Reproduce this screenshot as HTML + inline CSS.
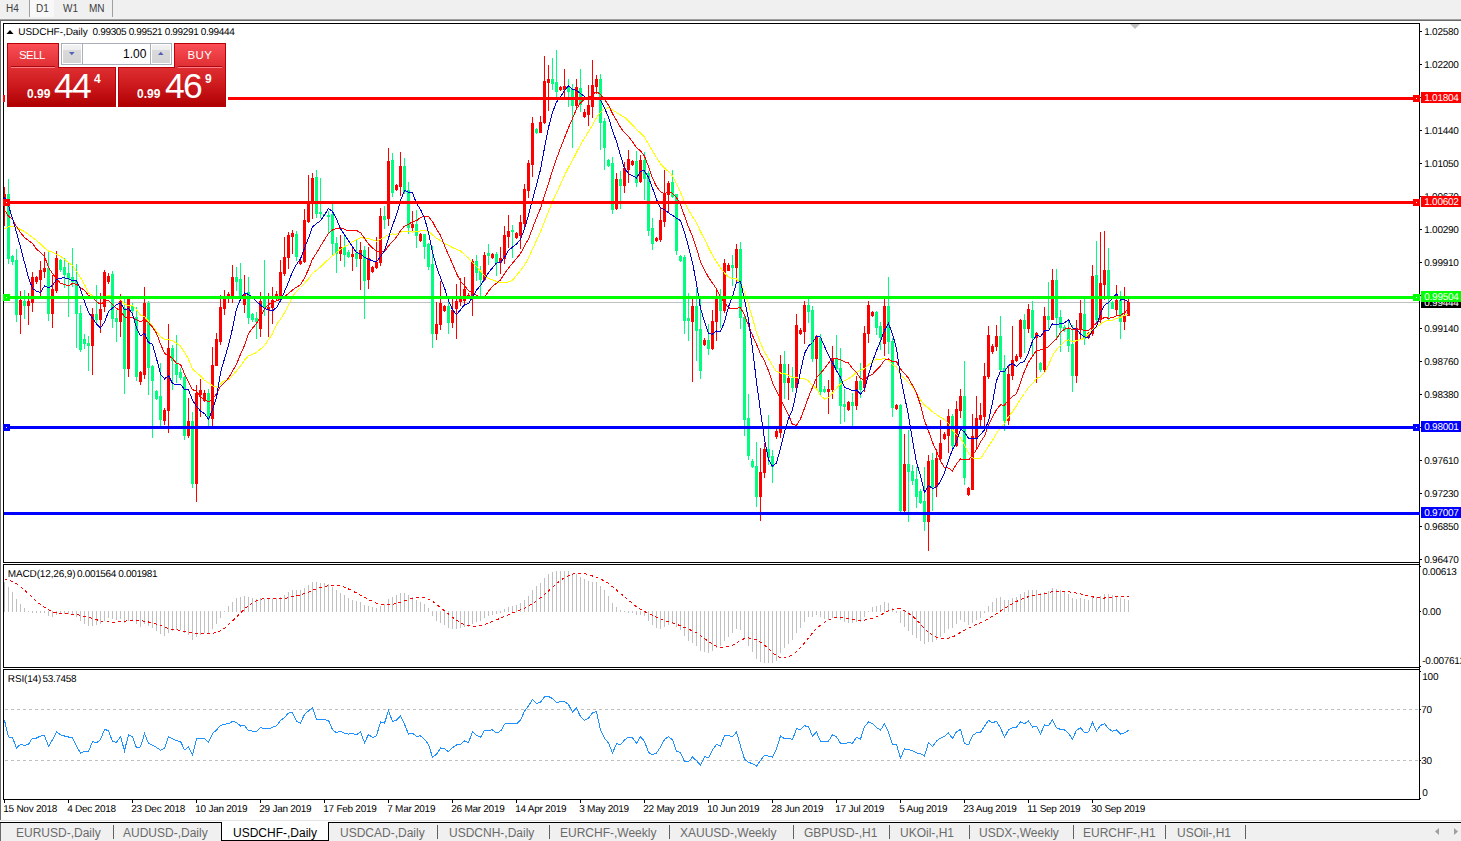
<!DOCTYPE html>
<html><head><meta charset="utf-8"><title>USDCHF-,Daily</title>
<style>
html,body{margin:0;padding:0}
body{width:1461px;height:841px;position:relative;overflow:hidden;background:#fff;font-family:"Liberation Sans",sans-serif;}
.topbar{position:absolute;left:0;top:0;width:1461px;height:19px;background:#f0f0f0}
.topbar .l1{position:absolute;left:0;top:19px;width:1461px;height:1px;background:#a0a0a0}
.topbar .l2{position:absolute;left:0;top:20px;width:1461px;height:1px;background:#696969}
.tf{position:absolute;top:2.6px;font-size:10px;line-height:12px;color:#404040;white-space:nowrap}
.vsep{position:absolute;top:0;width:1px;height:17px;background:#a0a0a0}
.d1bg{position:absolute;left:30px;top:0;width:24px;height:17px;background:#f8f8f8}
.leftline{position:absolute;left:0;top:20px;width:1px;height:800px;background:#696969}
.s{position:absolute;font-size:10px;line-height:8px;height:8px;letter-spacing:-0.27px;text-rendering:geometricPrecision;margin-top:1px;margin-left:-0.7px;white-space:nowrap;color:#000}
.tag{position:absolute;left:1421px;width:40px;height:11px;overflow:hidden}
.tag span{position:absolute;left:4px;top:1.5px;font-size:10px;line-height:8px;letter-spacing:-0.27px;text-rendering:geometricPrecision;margin-top:1px;margin-left:-0.7px;white-space:nowrap}
.botline1{position:absolute;left:0;top:820px;width:1461px;height:1px;background:#e3e3e3}
.botline{position:absolute;left:0;top:822px;width:1461px;height:1px;background:#000}
.tabbar{position:absolute;left:0;top:823px;width:1461px;height:18px;background:#f0f0f0}
.tb{position:absolute;top:826px;font-size:12px;line-height:14px;color:#6a6a6a;white-space:nowrap}
.tb.act{color:#000}
.sep{position:absolute;top:825px;width:1px;height:14px;background:#606060}
.acttab{position:absolute;left:221px;top:822px;width:106px;height:18px;background:#fff;border:1px solid #000;border-top:none}
.arr{position:absolute;top:829px;font-size:9px;line-height:9px;color:#808080}
/* trade panel */
.panelbg{position:absolute;left:5px;top:40px;width:223px;height:69px;background:#fff}
.red{position:absolute;background:linear-gradient(#ff4d55 0%,#e83a3e 30%,#d52224 60%,#b00000 100%);}
.btn{position:absolute;color:#fff;font-size:11.5px;line-height:12px;letter-spacing:-0.55px;white-space:nowrap}
.big{position:absolute;color:#fff;font-size:35.5px;line-height:30px;letter-spacing:-1.8px;white-space:nowrap}
.sm{position:absolute;color:#fff;font-size:12px;font-weight:bold;line-height:12px;white-space:nowrap}
.spin{position:absolute;left:61px;top:43px;width:109px;height:20px;border:1px solid #a9afbb;background:#fff}
.sb{position:absolute;top:1px;width:19px;height:18px;background:linear-gradient(#f4f4f4 0%,#ececec 35%,#d0d0d0 40%,#d6d6d6 100%);}
</style></head><body>
<div class="topbar"><div class="l1"></div><div class="l2"></div>
<div class="d1bg"></div>
<div class="vsep" style="left:29px"></div><div class="vsep" style="left:112px"></div>
<div class="tf" style="left:6px">H4</div><div class="tf" style="left:36px">D1</div><div class="tf" style="left:63px">W1</div><div class="tf" style="left:89px">MN</div>
</div>
<div class="leftline"></div>
<svg width="1461" height="841" viewBox="0 0 1461 841" style="position:absolute;left:0;top:0" shape-rendering="crispEdges">
<rect x="4" y="302" width="1415" height="1" fill="#c0c0c0"/>
<path d="M4 187h1v39h-1zM20 291h1v43h-1zM28 293h1v32h-1zM32 272h1v40h-1zM36 276h1v8h-1zM40 261h1v35h-1zM44 252h1v26h-1zM52 275h1v53h-1zM56 251h1v42h-1zM92 308h1v67h-1zM100 293h1v40h-1zM104 270h1v42h-1zM108 273h1v11h-1zM120 294h1v43h-1zM128 298h1v79h-1zM140 371h1v14h-1zM144 287h1v92h-1zM164 408h1v17h-1zM168 324h1v109h-1zM188 398h1v40h-1zM196 385h1v117h-1zM200 379h1v38h-1zM204 390h1v12h-1zM212 347h1v80h-1zM216 333h1v33h-1zM220 295h1v50h-1zM224 290h1v25h-1zM228 292h1v11h-1zM232 265h1v38h-1zM244 275h1v38h-1zM260 292h1v45h-1zM268 293h1v44h-1zM272 287h1v37h-1zM276 291h1v10h-1zM280 260h1v39h-1zM284 237h1v39h-1zM288 232h1v37h-1zM292 230h1v24h-1zM300 259h1v6h-1zM304 209h1v54h-1zM308 175h1v48h-1zM312 173h1v46h-1zM340 235h1v26h-1zM352 246h1v25h-1zM360 242h1v48h-1zM368 247h1v42h-1zM372 266h1v7h-1zM376 237h1v32h-1zM380 208h1v58h-1zM388 148h1v78h-1zM396 184h1v7h-1zM400 152h1v44h-1zM412 211h1v20h-1zM420 233h1v9h-1zM436 302h1v38h-1zM440 281h1v49h-1zM444 305h1v7h-1zM452 298h1v30h-1zM456 284h1v55h-1zM460 278h1v28h-1zM464 277h1v28h-1zM468 293h1v5h-1zM472 259h1v57h-1zM484 252h1v29h-1zM492 253h1v6h-1zM500 247h1v27h-1zM504 226h1v38h-1zM508 215h1v33h-1zM516 232h1v7h-1zM520 215h1v34h-1zM524 184h1v45h-1zM528 160h1v38h-1zM532 117h1v60h-1zM540 116h1v17h-1zM544 56h1v68h-1zM548 65h1v46h-1zM560 86h1v5h-1zM564 69h1v28h-1zM576 79h1v29h-1zM584 109h1v9h-1zM588 85h1v41h-1zM592 60h1v58h-1zM596 75h1v19h-1zM616 173h1v37h-1zM624 162h1v31h-1zM628 150h1v33h-1zM632 160h1v6h-1zM640 155h1v28h-1zM656 237h1v5h-1zM660 207h1v35h-1zM664 170h1v57h-1zM668 181h1v32h-1zM692 299h1v83h-1zM704 338h1v8h-1zM712 310h1v40h-1zM716 288h1v53h-1zM724 259h1v54h-1zM728 263h1v8h-1zM736 244h1v38h-1zM760 448h1v73h-1zM764 443h1v35h-1zM776 429h1v10h-1zM780 355h1v83h-1zM788 364h1v36h-1zM796 314h1v75h-1zM800 328h1v7h-1zM804 301h1v43h-1zM816 335h1v54h-1zM828 380h1v34h-1zM832 346h1v53h-1zM848 401h1v10h-1zM856 376h1v34h-1zM864 326h1v66h-1zM868 301h1v42h-1zM872 311h1v6h-1zM884 299h1v57h-1zM896 404h1v6h-1zM904 434h1v78h-1zM928 455h1v96h-1zM936 449h1v48h-1zM940 420h1v40h-1zM944 432h1v8h-1zM948 409h1v44h-1zM956 401h1v46h-1zM960 389h1v29h-1zM968 487h1v9h-1zM972 414h1v76h-1zM976 396h1v52h-1zM980 403h1v23h-1zM984 363h1v63h-1zM988 326h1v53h-1zM992 344h1v10h-1zM996 325h1v26h-1zM1008 366h1v59h-1zM1012 326h1v54h-1zM1016 354h1v8h-1zM1020 319h1v40h-1zM1028 304h1v29h-1zM1036 332h1v51h-1zM1044 307h1v66h-1zM1052 269h1v51h-1zM1076 320h1v63h-1zM1080 300h1v39h-1zM1088 332h1v7h-1zM1092 265h1v71h-1zM1100 232h1v92h-1zM1104 231h1v69h-1zM1116 285h1v31h-1zM1124 287h1v43h-1zM1128 299h1v17h-1zM3 194h3v12h-3zM19 300h3v15h-3zM27 301h3v5h-3zM31 277h3v26h-3zM35 277h3v5h-3zM39 270h3v10h-3zM43 268h3v4h-3zM51 289h3v25h-3zM55 258h3v33h-3zM91 314h3v32h-3zM99 309h3v11h-3zM103 272h3v35h-3zM107 276h3v6h-3zM119 301h3v21h-3zM127 299h3v70h-3zM139 372h3v10h-3zM143 303h3v72h-3zM163 410h3v11h-3zM167 348h3v63h-3zM187 421h3v15h-3zM195 393h3v91h-3zM199 390h3v5h-3zM203 393h3v8h-3zM211 365h3v54h-3zM215 339h3v27h-3zM219 307h3v35h-3zM223 296h3v13h-3zM227 294h3v5h-3zM231 277h3v19h-3zM243 294h3v11h-3zM259 301h3v28h-3zM267 307h3v3h-3zM271 300h3v8h-3zM275 294h3v5h-3zM279 272h3v26h-3zM283 257h3v17h-3zM287 235h3v23h-3zM291 233h3v4h-3zM299 261h3v3h-3zM303 220h3v42h-3zM307 201h3v21h-3zM311 178h3v24h-3zM339 247h3v7h-3zM351 254h3v3h-3zM359 250h3v9h-3zM367 258h3v22h-3zM371 267h3v5h-3zM375 262h3v6h-3zM379 216h3v47h-3zM387 161h3v58h-3zM395 185h3v5h-3zM399 166h3v21h-3zM411 224h3v4h-3zM419 234h3v7h-3zM435 324h3v10h-3zM439 303h3v22h-3zM443 306h3v5h-3zM451 310h3v13h-3zM455 301h3v8h-3zM459 299h3v3h-3zM463 289h3v12h-3zM467 295h3v2h-3zM471 261h3v35h-3zM483 255h3v25h-3zM491 254h3v4h-3zM499 258h3v5h-3zM503 235h3v24h-3zM507 231h3v6h-3zM515 233h3v5h-3zM519 222h3v14h-3zM523 189h3v35h-3zM527 163h3v28h-3zM531 123h3v42h-3zM539 122h3v11h-3zM543 81h3v42h-3zM547 79h3v4h-3zM559 87h3v3h-3zM563 86h3v4h-3zM575 87h3v19h-3zM583 112h3v5h-3zM587 105h3v10h-3zM591 85h3v22h-3zM595 79h3v8h-3zM615 179h3v30h-3zM623 168h3v18h-3zM627 159h3v11h-3zM631 161h3v4h-3zM639 160h3v22h-3zM655 238h3v3h-3zM659 220h3v20h-3zM663 194h3v28h-3zM667 183h3v12h-3zM691 306h3v16h-3zM703 340h3v5h-3zM711 321h3v28h-3zM715 298h3v24h-3zM723 263h3v48h-3zM727 265h3v6h-3zM735 249h3v19h-3zM759 472h3v25h-3zM763 449h3v24h-3zM775 431h3v6h-3zM779 364h3v69h-3zM787 378h3v5h-3zM795 325h3v63h-3zM799 330h3v4h-3zM803 305h3v27h-3zM815 336h3v23h-3zM827 389h3v3h-3zM831 358h3v32h-3zM847 402h3v8h-3zM855 381h3v25h-3zM863 333h3v55h-3zM867 305h3v29h-3zM871 312h3v4h-3zM883 306h3v38h-3zM895 405h3v4h-3zM903 464h3v47h-3zM927 461h3v61h-3zM935 458h3v29h-3zM939 443h3v16h-3zM943 434h3v5h-3zM947 416h3v20h-3zM955 409h3v37h-3zM959 396h3v15h-3zM967 488h3v7h-3zM971 436h3v54h-3zM975 418h3v20h-3zM979 415h3v5h-3zM983 376h3v41h-3zM987 335h3v42h-3zM991 346h3v6h-3zM995 336h3v11h-3zM1007 374h3v47h-3zM1011 360h3v16h-3zM1015 356h3v5h-3zM1019 320h3v37h-3zM1027 309h3v20h-3zM1035 333h3v5h-3zM1043 316h3v54h-3zM1051 280h3v40h-3zM1075 328h3v48h-3zM1079 313h3v17h-3zM1087 333h3v5h-3zM1091 276h3v58h-3zM1099 283h3v37h-3zM1103 270h3v15h-3zM1115 300h3v10h-3zM1123 315h3v7h-3zM1127 302h3v14h-3z" fill="#ff0000"/>
<path d="M8 179h1v85h-1zM12 255h1v10h-1zM16 249h1v73h-1zM24 290h1v29h-1zM48 251h1v70h-1zM60 259h1v13h-1zM64 258h1v30h-1zM68 262h1v55h-1zM72 248h1v39h-1zM76 264h1v84h-1zM80 305h1v47h-1zM84 334h1v15h-1zM88 336h1v35h-1zM96 285h1v40h-1zM112 271h1v57h-1zM116 310h1v32h-1zM124 299h1v95h-1zM132 303h1v11h-1zM136 307h1v74h-1zM148 301h1v94h-1zM152 365h1v73h-1zM156 390h1v10h-1zM160 363h1v63h-1zM172 345h1v45h-1zM176 335h1v48h-1zM180 368h1v12h-1zM184 376h1v64h-1zM192 412h1v76h-1zM208 389h1v38h-1zM236 267h1v24h-1zM240 263h1v37h-1zM248 277h1v47h-1zM252 313h1v9h-1zM256 312h1v27h-1zM264 260h1v56h-1zM296 231h1v30h-1zM316 170h1v48h-1zM320 178h1v40h-1zM324 214h1v1h-1zM328 211h1v23h-1zM332 204h1v51h-1zM336 237h1v36h-1zM344 235h1v32h-1zM348 250h1v8h-1zM356 239h1v28h-1zM364 246h1v73h-1zM384 206h1v23h-1zM392 153h1v44h-1zM404 158h1v36h-1zM408 182h1v52h-1zM416 210h1v38h-1zM424 234h1v25h-1zM428 243h1v27h-1zM432 246h1v102h-1zM448 299h1v35h-1zM476 255h1v26h-1zM480 266h1v30h-1zM488 244h1v21h-1zM496 252h1v24h-1zM512 225h1v33h-1zM536 128h1v6h-1zM552 58h1v32h-1zM556 50h1v48h-1zM568 79h1v28h-1zM572 84h1v64h-1zM580 69h1v43h-1zM600 74h1v76h-1zM604 118h1v52h-1zM608 159h1v8h-1zM612 157h1v57h-1zM620 171h1v38h-1zM636 151h1v36h-1zM644 152h1v48h-1zM648 171h1v65h-1zM652 218h1v32h-1zM672 170h1v28h-1zM676 194h1v61h-1zM680 255h1v7h-1zM684 255h1v79h-1zM688 293h1v48h-1zM696 288h1v73h-1zM700 299h1v80h-1zM708 324h1v31h-1zM720 289h1v39h-1zM732 255h1v31h-1zM740 242h1v87h-1zM744 316h1v120h-1zM748 394h1v66h-1zM752 459h1v9h-1zM756 442h1v65h-1zM768 415h1v50h-1zM772 450h1v33h-1zM784 351h1v48h-1zM792 367h1v25h-1zM808 299h1v24h-1zM812 306h1v56h-1zM820 334h1v62h-1zM824 386h1v7h-1zM836 335h1v36h-1zM840 348h1v76h-1zM844 389h1v33h-1zM852 393h1v33h-1zM860 363h1v35h-1zM876 311h1v24h-1zM880 322h1v28h-1zM888 277h1v77h-1zM892 338h1v79h-1zM900 404h1v109h-1zM908 430h1v92h-1zM912 465h1v20h-1zM916 467h1v41h-1zM920 489h1v15h-1zM924 467h1v64h-1zM932 453h1v58h-1zM952 414h1v34h-1zM964 361h1v124h-1zM1000 316h1v55h-1zM1004 355h1v76h-1zM1024 314h1v39h-1zM1032 301h1v56h-1zM1040 362h1v10h-1zM1048 282h1v47h-1zM1056 269h1v70h-1zM1060 310h1v42h-1zM1064 325h1v7h-1zM1068 319h1v33h-1zM1072 325h1v67h-1zM1084 299h1v46h-1zM1096 241h1v82h-1zM1108 248h1v72h-1zM1112 301h1v8h-1zM1120 291h1v48h-1zM7 194h3v65h-3zM11 256h3v6h-3zM15 260h3v55h-3zM23 301h3v5h-3zM47 268h3v46h-3zM59 260h3v10h-3zM63 267h3v8h-3zM67 273h3v6h-3zM71 277h3v5h-3zM75 281h3v33h-3zM79 313h3v37h-3zM83 339h3v5h-3zM87 343h3v3h-3zM95 314h3v6h-3zM111 274h3v45h-3zM115 318h3v4h-3zM123 308h3v61h-3zM131 306h3v5h-3zM135 317h3v60h-3zM147 303h3v65h-3zM151 366h3v15h-3zM155 391h3v8h-3zM159 396h3v24h-3zM171 348h3v13h-3zM175 364h3v11h-3zM179 372h3v6h-3zM183 377h3v59h-3zM191 421h3v63h-3zM207 393h3v26h-3zM235 277h3v5h-3zM239 279h3v20h-3zM247 292h3v26h-3zM251 314h3v6h-3zM255 318h3v4h-3zM263 298h3v10h-3zM295 234h3v23h-3zM315 177h3v37h-3zM319 212h3v2h-3zM323 214h3v1h-3zM327 215h3v2h-3zM331 214h3v30h-3zM335 243h3v11h-3zM343 247h3v8h-3zM347 252h3v5h-3zM355 253h3v6h-3zM363 250h3v31h-3zM383 216h3v4h-3zM391 160h3v33h-3zM403 166h3v26h-3zM407 190h3v38h-3zM415 224h3v12h-3zM423 234h3v13h-3zM427 244h3v23h-3zM431 264h3v70h-3zM447 306h3v17h-3zM475 261h3v12h-3zM479 271h3v9h-3zM487 253h3v3h-3zM495 254h3v9h-3zM511 230h3v2h-3zM535 129h3v4h-3zM551 79h3v5h-3zM555 82h3v10h-3zM567 87h3v5h-3zM571 89h3v17h-3zM579 88h3v17h-3zM599 79h3v44h-3zM603 121h3v27h-3zM607 160h3v6h-3zM611 163h3v47h-3zM619 179h3v7h-3zM635 161h3v22h-3zM643 160h3v19h-3zM647 173h3v58h-3zM651 228h3v16h-3zM671 182h3v15h-3zM675 194h3v57h-3zM679 256h3v5h-3zM683 257h3v64h-3zM687 318h3v3h-3zM695 306h3v25h-3zM699 329h3v42h-3zM707 340h3v9h-3zM719 298h3v13h-3zM731 265h3v3h-3zM739 249h3v69h-3zM743 317h3v103h-3zM747 418h3v38h-3zM751 461h3v6h-3zM755 466h3v31h-3zM767 449h3v9h-3zM771 456h3v11h-3zM783 364h3v19h-3zM791 378h3v10h-3zM807 305h3v7h-3zM811 310h3v49h-3zM819 338h3v54h-3zM823 389h3v3h-3zM835 358h3v11h-3zM839 368h3v38h-3zM843 404h3v3h-3zM851 402h3v4h-3zM859 381h3v9h-3zM875 312h3v16h-3zM879 326h3v12h-3zM887 306h3v36h-3zM891 341h3v67h-3zM899 405h3v106h-3zM907 464h3v8h-3zM911 471h3v10h-3zM915 479h3v18h-3zM919 491h3v12h-3zM923 501h3v21h-3zM931 460h3v27h-3zM951 416h3v30h-3zM963 396h3v82h-3zM999 336h3v34h-3zM1003 368h3v53h-3zM1023 320h3v9h-3zM1031 310h3v28h-3zM1039 363h3v7h-3zM1047 316h3v4h-3zM1055 280h3v38h-3zM1059 317h3v11h-3zM1063 327h3v3h-3zM1067 328h3v18h-3zM1071 344h3v32h-3zM1083 314h3v25h-3zM1095 275h3v45h-3zM1107 270h3v27h-3zM1111 302h3v7h-3zM1119 300h3v22h-3z" fill="#00ff7f"/>
<g shape-rendering="crispEdges" fill="none" stroke-width="1">
<polyline points="4.5,228.5 8.5,226.9 12.5,226.1 16.5,227.5 20.5,229.5 24.5,231.5 28.5,234.5 32.5,237.5 36.5,240.5 40.5,243.9 44.5,248.0 48.5,251.1 52.5,252.1 56.5,254.2 60.5,256.2 64.5,259.3 68.5,262.5 72.5,265.5 76.5,271.5 80.5,277.5 84.5,284.5 88.5,293.0 92.5,295.7 96.5,298.5 100.5,298.2 104.5,296.9 108.5,295.5 112.5,296.3 116.5,298.4 120.5,299.5 124.5,304.2 128.5,305.7 132.5,305.5 136.5,309.7 140.5,315.1 144.5,316.7 148.5,321.2 152.5,326.0 156.5,331.6 160.5,336.6 164.5,339.5 168.5,339.8 172.5,340.5 176.5,343.4 180.5,346.1 184.5,352.1 188.5,359.2 192.5,369.1 196.5,372.6 200.5,375.9 204.5,380.3 208.5,382.7 212.5,385.8 216.5,387.2 220.5,383.9 224.5,380.3 228.5,379.9 232.5,375.6 236.5,370.9 240.5,366.1 244.5,360.2 248.5,355.7 252.5,354.4 256.5,352.5 260.5,349.0 264.5,345.7 268.5,339.6 272.5,333.8 276.5,324.8 280.5,319.1 284.5,312.7 288.5,305.2 292.5,296.4 296.5,291.2 300.5,287.5 304.5,283.4 308.5,278.8 312.5,273.3 316.5,270.3 320.5,267.0 324.5,263.0 328.5,259.3 332.5,255.8 336.5,252.6 340.5,249.1 344.5,246.9 348.5,244.5 352.5,241.9 356.5,239.9 360.5,237.8 364.5,238.2 368.5,238.3 372.5,239.8 376.5,241.2 380.5,239.3 384.5,237.3 388.5,234.5 392.5,234.0 396.5,234.4 400.5,232.1 404.5,231.1 408.5,231.7 412.5,232.1 416.5,231.7 420.5,230.8 424.5,230.7 428.5,231.3 432.5,235.0 436.5,238.3 440.5,240.5 444.5,243.1 448.5,245.1 452.5,247.6 456.5,249.2 460.5,251.0 464.5,254.5 468.5,258.1 472.5,262.8 476.5,266.6 480.5,271.1 484.5,275.4 488.5,278.4 492.5,279.7 496.5,281.5 500.5,282.6 504.5,282.6 508.5,281.9 512.5,280.3 516.5,275.5 520.5,270.6 524.5,265.2 528.5,258.4 532.5,248.9 536.5,240.5 540.5,231.9 544.5,221.5 548.5,211.5 552.5,201.5 556.5,193.4 560.5,184.5 564.5,175.4 568.5,167.5 572.5,160.4 576.5,152.5 580.5,144.9 584.5,138.0 588.5,131.8 592.5,124.8 596.5,117.6 600.5,112.3 604.5,108.7 608.5,107.6 612.5,109.8 616.5,112.5 620.5,115.0 624.5,117.2 628.5,120.9 632.5,124.8 636.5,129.5 640.5,132.8 644.5,137.1 648.5,144.0 652.5,151.2 656.5,157.5 660.5,163.9 664.5,168.2 668.5,171.5 672.5,175.9 676.5,183.7 680.5,192.4 684.5,201.8 688.5,210.0 692.5,216.7 696.5,222.5 700.5,231.6 704.5,239.0 708.5,247.5 712.5,255.3 716.5,261.8 720.5,267.9 724.5,272.8 728.5,276.9 732.5,278.7 736.5,279.0 740.5,282.7 744.5,292.2 748.5,304.6 752.5,318.1 756.5,332.4 760.5,343.0 764.5,352.0 768.5,358.5 772.5,365.5 776.5,371.4 780.5,373.0 784.5,373.6 788.5,375.4 792.5,377.3 796.5,377.5 800.5,379.0 804.5,378.7 808.5,381.0 812.5,385.5 816.5,388.7 820.5,395.5 824.5,399.0 828.5,397.6 832.5,393.0 836.5,388.3 840.5,384.0 844.5,380.8 848.5,378.6 852.5,376.1 856.5,372.1 860.5,370.1 864.5,368.6 868.5,364.9 872.5,361.8 876.5,358.9 880.5,359.5 884.5,358.4 888.5,360.1 892.5,364.6 896.5,366.9 900.5,375.2 904.5,378.6 908.5,382.5 912.5,386.8 916.5,393.4 920.5,399.7 924.5,405.3 928.5,407.9 932.5,411.9 936.5,414.4 940.5,417.4 944.5,419.5 948.5,423.5 952.5,430.1 956.5,434.7 960.5,438.0 964.5,444.7 968.5,453.4 972.5,457.9 976.5,458.4 980.5,458.9 984.5,452.5 988.5,446.4 992.5,440.4 996.5,433.5 1000.5,427.5 1004.5,423.6 1008.5,416.6 1012.5,411.8 1016.5,405.6 1020.5,399.0 1024.5,393.5 1028.5,387.6 1032.5,383.8 1036.5,378.5 1040.5,376.6 1044.5,372.8 1048.5,365.3 1052.5,355.4 1056.5,349.7 1060.5,345.4 1064.5,341.3 1068.5,339.8 1072.5,341.7 1076.5,340.8 1080.5,339.7 1084.5,338.3 1088.5,334.1 1092.5,329.5 1096.5,327.5 1100.5,324.0 1104.5,321.6 1108.5,320.1 1112.5,320.1 1116.5,318.3 1120.5,317.7 1124.5,315.2 1128.5,314.5" stroke="#ffff00"/>
<polyline points="4.5,210.0 8.5,216.2 12.5,219.3 16.5,226.5 20.5,232.5 24.5,237.5 28.5,240.5 32.5,243.5 36.5,249.1 40.5,252.5 44.5,256.2 48.5,267.5 52.5,273.5 56.5,278.5 60.5,283.4 64.5,284.5 68.5,285.7 72.5,283.4 76.5,284.3 80.5,287.4 84.5,290.4 88.5,295.3 92.5,297.9 96.5,301.4 100.5,304.4 104.5,301.4 108.5,300.5 112.5,304.8 116.5,308.5 120.5,310.4 124.5,316.9 128.5,318.1 132.5,317.9 136.5,319.9 140.5,321.9 144.5,318.9 148.5,322.7 152.5,327.1 156.5,333.4 160.5,343.9 164.5,353.5 168.5,355.6 172.5,358.4 176.5,363.6 180.5,364.3 184.5,374.0 188.5,381.9 192.5,389.6 196.5,391.1 200.5,397.3 204.5,399.1 208.5,401.9 212.5,399.5 216.5,393.8 220.5,386.4 224.5,382.7 228.5,378.0 232.5,371.1 236.5,364.2 240.5,354.4 244.5,345.4 248.5,333.5 252.5,328.2 256.5,323.3 260.5,316.7 264.5,308.8 268.5,304.6 272.5,301.9 276.5,300.9 280.5,299.2 284.5,296.6 288.5,293.6 292.5,290.1 296.5,287.1 300.5,284.8 304.5,277.9 308.5,269.4 312.5,259.2 316.5,252.9 320.5,246.2 324.5,239.6 328.5,233.6 332.5,229.9 336.5,228.6 340.5,227.9 344.5,229.2 348.5,230.9 352.5,230.7 356.5,230.5 360.5,232.6 364.5,238.3 368.5,244.0 372.5,247.9 376.5,251.4 380.5,251.5 384.5,251.7 388.5,245.9 392.5,241.5 396.5,237.1 400.5,230.8 404.5,226.1 408.5,224.2 412.5,221.8 416.5,220.7 420.5,217.4 424.5,216.6 428.5,216.5 432.5,221.6 436.5,229.3 440.5,235.3 444.5,245.6 448.5,254.9 452.5,263.9 456.5,273.5 460.5,281.2 464.5,285.6 468.5,290.7 472.5,292.6 476.5,295.3 480.5,297.6 484.5,296.9 488.5,291.3 492.5,286.3 496.5,283.4 500.5,279.9 504.5,273.7 508.5,268.1 512.5,263.1 516.5,258.4 520.5,253.6 524.5,246.0 528.5,239.0 532.5,228.4 536.5,217.9 540.5,208.4 544.5,195.9 548.5,183.4 552.5,170.6 556.5,158.7 560.5,148.1 564.5,137.8 568.5,127.8 572.5,118.6 576.5,109.0 580.5,102.9 584.5,99.3 588.5,98.0 592.5,94.6 596.5,91.6 600.5,94.5 604.5,99.4 608.5,105.2 612.5,113.6 616.5,120.2 620.5,127.3 624.5,132.8 628.5,136.6 632.5,141.9 636.5,147.5 640.5,150.9 644.5,156.1 648.5,166.5 652.5,178.2 656.5,186.5 660.5,191.7 664.5,193.8 668.5,191.9 672.5,193.1 676.5,197.8 680.5,204.4 684.5,215.9 688.5,227.2 692.5,236.1 696.5,248.2 700.5,261.9 704.5,269.8 708.5,277.3 712.5,283.2 716.5,288.8 720.5,297.1 724.5,302.8 728.5,307.7 732.5,308.9 736.5,308.1 740.5,307.9 744.5,315.0 748.5,325.6 752.5,335.4 756.5,344.4 760.5,353.8 764.5,361.0 768.5,370.7 772.5,382.7 776.5,391.4 780.5,398.6 784.5,406.9 788.5,414.9 792.5,424.7 796.5,425.3 800.5,418.9 804.5,408.2 808.5,397.1 812.5,387.3 816.5,377.6 820.5,373.4 824.5,368.7 828.5,363.2 832.5,358.0 836.5,358.3 840.5,359.9 844.5,361.9 848.5,363.0 852.5,368.7 856.5,372.4 860.5,378.4 864.5,379.9 868.5,376.1 872.5,374.4 876.5,369.9 880.5,366.0 884.5,360.1 888.5,358.9 892.5,361.6 896.5,361.6 900.5,369.1 904.5,373.5 908.5,378.2 912.5,385.3 916.5,392.9 920.5,405.0 924.5,420.4 928.5,431.1 932.5,442.4 936.5,451.1 940.5,460.9 944.5,467.5 948.5,468.1 952.5,471.0 956.5,463.8 960.5,458.9 964.5,459.4 968.5,459.9 972.5,455.6 976.5,449.6 980.5,442.1 984.5,436.0 988.5,425.2 992.5,417.2 996.5,409.6 1000.5,404.9 1004.5,405.2 1008.5,400.1 1012.5,396.6 1016.5,393.8 1020.5,382.6 1024.5,371.1 1028.5,362.1 1032.5,356.3 1036.5,350.4 1040.5,349.9 1044.5,348.6 1048.5,346.6 1052.5,342.6 1056.5,338.9 1060.5,332.3 1064.5,329.1 1068.5,328.0 1072.5,329.4 1076.5,329.9 1080.5,328.9 1084.5,330.9 1088.5,330.6 1092.5,326.6 1096.5,323.0 1100.5,320.6 1104.5,317.1 1108.5,318.3 1112.5,317.6 1116.5,315.7 1120.5,315.1 1124.5,313.0 1128.5,307.8" stroke="#ff0000"/>
<polyline points="4.5,197.5 8.5,205.5 12.5,218.5 16.5,232.5 20.5,247.0 24.5,262.5 28.5,277.5 32.5,288.5 36.5,291.2 40.5,292.5 44.5,285.9 48.5,287.8 52.5,285.5 56.5,279.4 60.5,278.2 64.5,277.8 68.5,278.9 72.5,280.8 76.5,280.8 80.5,289.4 84.5,301.5 88.5,312.4 92.5,318.1 96.5,323.9 100.5,327.9 104.5,322.1 108.5,311.6 112.5,308.1 116.5,304.6 120.5,302.8 124.5,309.8 128.5,308.4 132.5,313.8 136.5,328.1 140.5,335.8 144.5,333.2 148.5,342.6 152.5,344.4 156.5,358.5 160.5,374.1 164.5,378.9 168.5,375.5 172.5,383.6 176.5,384.6 180.5,384.2 184.5,389.5 188.5,389.8 192.5,400.2 196.5,406.6 200.5,410.9 204.5,413.6 208.5,419.5 212.5,409.5 216.5,397.8 220.5,372.6 224.5,358.8 228.5,345.1 232.5,328.5 236.5,308.9 240.5,299.4 244.5,292.9 248.5,294.4 252.5,297.6 256.5,301.5 260.5,304.9 264.5,308.6 268.5,309.9 272.5,310.8 276.5,307.5 280.5,300.8 284.5,291.6 288.5,282.2 292.5,271.6 296.5,264.4 300.5,258.8 304.5,248.2 308.5,238.1 312.5,226.8 316.5,223.6 320.5,220.8 324.5,214.8 328.5,208.4 332.5,211.6 336.5,219.1 340.5,228.9 344.5,234.8 348.5,240.9 352.5,246.6 356.5,252.6 360.5,253.6 364.5,257.5 368.5,259.1 372.5,260.9 376.5,261.8 380.5,256.4 384.5,250.8 388.5,238.1 392.5,225.5 396.5,215.1 400.5,200.6 404.5,190.5 408.5,192.1 412.5,192.8 416.5,203.4 420.5,209.4 424.5,218.1 428.5,232.4 432.5,252.6 436.5,266.5 440.5,277.8 444.5,287.9 448.5,300.5 452.5,309.6 456.5,314.6 460.5,309.8 464.5,304.8 468.5,303.6 472.5,297.2 476.5,290.1 480.5,285.6 484.5,279.1 488.5,272.8 492.5,267.8 496.5,263.1 500.5,262.6 504.5,257.4 508.5,250.5 512.5,247.1 516.5,243.9 520.5,239.4 524.5,228.9 528.5,215.4 532.5,199.4 536.5,185.2 540.5,169.6 544.5,147.9 548.5,127.5 552.5,112.4 556.5,102.1 560.5,96.9 564.5,90.4 568.5,85.9 572.5,89.4 576.5,90.5 580.5,93.5 584.5,96.5 588.5,99.1 592.5,98.9 596.5,97.2 600.5,99.6 604.5,108.2 608.5,116.9 612.5,130.8 616.5,141.4 620.5,155.6 624.5,168.4 628.5,173.6 632.5,175.6 636.5,178.1 640.5,171.1 644.5,170.9 648.5,177.4 652.5,188.1 656.5,199.4 660.5,207.8 664.5,209.5 668.5,212.8 672.5,215.4 676.5,218.2 680.5,220.6 684.5,232.4 688.5,246.6 692.5,262.6 696.5,283.6 700.5,308.5 704.5,321.4 708.5,333.9 712.5,334.1 716.5,330.9 720.5,331.5 724.5,321.9 728.5,306.9 732.5,296.5 736.5,282.4 740.5,281.8 744.5,299.1 748.5,319.8 752.5,348.8 756.5,381.8 760.5,411.1 764.5,439.6 768.5,459.6 772.5,466.4 776.5,462.9 780.5,448.4 784.5,432.1 788.5,418.6 792.5,409.8 796.5,390.9 800.5,371.5 804.5,353.5 808.5,345.9 812.5,342.5 816.5,336.5 820.5,337.1 824.5,346.5 828.5,354.9 832.5,362.5 836.5,370.6 840.5,377.4 844.5,387.4 848.5,388.9 852.5,390.9 856.5,389.8 860.5,394.2 864.5,389.2 868.5,374.9 872.5,361.5 876.5,350.8 880.5,341.1 884.5,330.4 888.5,323.5 892.5,334.1 896.5,348.4 900.5,376.6 904.5,396.2 908.5,415.4 912.5,440.2 916.5,462.4 920.5,475.9 924.5,492.5 928.5,485.5 932.5,488.6 936.5,486.8 940.5,481.5 944.5,472.6 948.5,460.4 952.5,449.5 956.5,442.1 960.5,429.2 964.5,431.9 968.5,438.4 972.5,438.6 976.5,438.9 980.5,434.6 984.5,429.9 988.5,421.2 992.5,402.5 996.5,380.8 1000.5,371.2 1004.5,371.5 1008.5,365.6 1012.5,363.4 1016.5,366.4 1020.5,362.6 1024.5,361.5 1028.5,352.9 1032.5,341.1 1036.5,335.2 1040.5,336.5 1044.5,330.8 1048.5,330.6 1052.5,323.8 1056.5,324.9 1060.5,323.5 1064.5,322.9 1068.5,319.5 1072.5,327.9 1076.5,329.2 1080.5,333.9 1084.5,336.9 1088.5,337.8 1092.5,330.2 1096.5,326.5 1100.5,313.4 1104.5,305.1 1108.5,302.6 1112.5,298.4 1116.5,293.6 1120.5,300.1 1124.5,299.5 1128.5,302.2" stroke="#0000d0"/>
</g>
<path d="M4 582h1v30h-1zM8 587h1v25h-1zM12 592h1v20h-1zM16 599h1v13h-1zM20 604h1v8h-1zM24 608h1v4h-1zM28 611h1v1h-1zM32 611h1v2h-1zM36 611h1v2h-1zM40 611h1v2h-1zM44 611h1v2h-1zM48 611h1v5h-1zM52 611h1v6h-1zM56 611h1v4h-1zM60 611h1v3h-1zM64 611h1v3h-1zM68 611h1v3h-1zM72 611h1v4h-1zM76 611h1v6h-1zM80 611h1v10h-1zM84 611h1v13h-1zM88 611h1v15h-1zM92 611h1v15h-1zM96 611h1v14h-1zM100 611h1v13h-1zM104 611h1v10h-1zM108 611h1v7h-1zM112 611h1v8h-1zM116 611h1v9h-1zM120 611h1v8h-1zM124 611h1v12h-1zM128 611h1v10h-1zM132 611h1v9h-1zM136 611h1v13h-1zM140 611h1v16h-1zM144 611h1v13h-1zM148 611h1v15h-1zM152 611h1v17h-1zM156 611h1v20h-1zM160 611h1v23h-1zM164 611h1v25h-1zM168 611h1v22h-1zM172 611h1v20h-1zM176 611h1v19h-1zM180 611h1v19h-1zM184 611h1v22h-1zM188 611h1v24h-1zM192 611h1v29h-1zM196 611h1v26h-1zM200 611h1v24h-1zM204 611h1v22h-1zM208 611h1v22h-1zM212 611h1v18h-1zM216 611h1v13h-1zM220 611h1v7h-1zM224 611h1v1h-1zM228 606h1v6h-1zM232 602h1v10h-1zM236 598h1v14h-1zM240 597h1v15h-1zM244 596h1v16h-1zM248 597h1v15h-1zM252 598h1v14h-1zM256 599h1v13h-1zM260 598h1v14h-1zM264 599h1v13h-1zM268 599h1v13h-1zM272 599h1v13h-1zM276 598h1v14h-1zM280 597h1v15h-1zM284 595h1v17h-1zM288 592h1v20h-1zM292 590h1v22h-1zM296 590h1v22h-1zM300 590h1v22h-1zM304 588h1v24h-1zM308 585h1v27h-1zM312 582h1v30h-1zM316 582h1v30h-1zM320 583h1v29h-1zM324 583h1v29h-1zM328 584h1v28h-1zM332 587h1v25h-1zM336 590h1v22h-1zM340 593h1v19h-1zM344 595h1v17h-1zM348 598h1v14h-1zM352 600h1v12h-1zM356 601h1v11h-1zM360 602h1v10h-1zM364 605h1v7h-1zM368 606h1v6h-1zM372 607h1v5h-1zM376 608h1v4h-1zM380 606h1v6h-1zM384 604h1v8h-1zM388 599h1v13h-1zM392 597h1v15h-1zM396 595h1v17h-1zM400 593h1v19h-1zM404 593h1v19h-1zM408 595h1v17h-1zM412 597h1v15h-1zM416 600h1v12h-1zM420 602h1v10h-1zM424 604h1v8h-1zM428 608h1v4h-1zM432 611h1v5h-1zM436 611h1v10h-1zM440 611h1v12h-1zM444 611h1v14h-1zM448 611h1v17h-1zM452 611h1v18h-1zM456 611h1v18h-1zM460 611h1v17h-1zM464 611h1v16h-1zM468 611h1v16h-1zM472 611h1v13h-1zM476 611h1v11h-1zM480 611h1v10h-1zM484 611h1v7h-1zM488 611h1v5h-1zM492 611h1v4h-1zM496 611h1v3h-1zM500 611h1v2h-1zM504 609h1v3h-1zM508 607h1v5h-1zM512 606h1v6h-1zM516 605h1v7h-1zM520 603h1v9h-1zM524 600h1v12h-1zM528 596h1v16h-1zM532 590h1v22h-1zM536 586h1v26h-1zM540 583h1v29h-1zM544 578h1v34h-1zM548 574h1v38h-1zM552 572h1v40h-1zM556 571h1v41h-1zM560 571h1v41h-1zM564 571h1v41h-1zM568 571h1v41h-1zM572 574h1v38h-1zM576 574h1v38h-1zM580 577h1v35h-1zM584 579h1v33h-1zM588 581h1v31h-1zM592 582h1v30h-1zM596 582h1v30h-1zM600 586h1v26h-1zM604 590h1v22h-1zM608 596h1v16h-1zM612 603h1v9h-1zM616 607h1v5h-1zM620 610h1v2h-1zM624 611h1v1h-1zM628 611h1v2h-1zM632 611h1v2h-1zM636 611h1v4h-1zM640 611h1v4h-1zM644 611h1v5h-1zM648 611h1v10h-1zM652 611h1v14h-1zM656 611h1v17h-1zM660 611h1v18h-1zM664 611h1v16h-1zM668 611h1v14h-1zM672 611h1v13h-1zM676 611h1v16h-1zM680 611h1v19h-1zM684 611h1v25h-1zM688 611h1v30h-1zM692 611h1v32h-1zM696 611h1v35h-1zM700 611h1v40h-1zM704 611h1v41h-1zM708 611h1v42h-1zM712 611h1v40h-1zM716 611h1v37h-1zM720 611h1v35h-1zM724 611h1v30h-1zM728 611h1v26h-1zM732 611h1v22h-1zM736 611h1v18h-1zM740 611h1v19h-1zM744 611h1v27h-1zM748 611h1v35h-1zM752 611h1v41h-1zM756 611h1v48h-1zM760 611h1v51h-1zM764 611h1v52h-1zM768 611h1v52h-1zM772 611h1v52h-1zM776 611h1v50h-1zM780 611h1v42h-1zM784 611h1v37h-1zM788 611h1v33h-1zM792 611h1v29h-1zM796 611h1v22h-1zM800 611h1v17h-1zM804 611h1v11h-1zM808 611h1v6h-1zM812 611h1v6h-1zM816 611h1v4h-1zM820 611h1v6h-1zM824 611h1v8h-1zM828 611h1v9h-1zM832 611h1v7h-1zM836 611h1v7h-1zM840 611h1v9h-1zM844 611h1v11h-1zM848 611h1v12h-1zM852 611h1v12h-1zM856 611h1v11h-1zM860 611h1v11h-1zM864 611h1v6h-1zM868 611h1v1h-1zM872 607h1v5h-1zM876 606h1v6h-1zM880 605h1v7h-1zM884 602h1v10h-1zM888 603h1v9h-1zM892 608h1v4h-1zM896 611h1v2h-1zM900 611h1v12h-1zM904 611h1v16h-1zM908 611h1v20h-1zM912 611h1v24h-1zM916 611h1v27h-1zM920 611h1v30h-1zM924 611h1v33h-1zM928 611h1v31h-1zM932 611h1v31h-1zM936 611h1v29h-1zM940 611h1v26h-1zM944 611h1v22h-1zM948 611h1v18h-1zM952 611h1v17h-1zM956 611h1v13h-1zM960 611h1v9h-1zM964 611h1v11h-1zM968 611h1v14h-1zM972 611h1v12h-1zM976 611h1v9h-1zM980 611h1v7h-1zM984 611h1v2h-1zM988 606h1v6h-1zM992 602h1v10h-1zM996 598h1v14h-1zM1000 597h1v15h-1zM1004 600h1v12h-1zM1008 600h1v12h-1zM1012 598h1v14h-1zM1016 597h1v15h-1zM1020 594h1v18h-1zM1024 592h1v20h-1zM1028 590h1v22h-1zM1032 590h1v22h-1zM1036 590h1v22h-1zM1040 593h1v19h-1zM1044 592h1v20h-1zM1048 591h1v21h-1zM1052 588h1v24h-1zM1056 589h1v23h-1zM1060 590h1v22h-1zM1064 592h1v20h-1zM1068 594h1v18h-1zM1072 598h1v14h-1zM1076 599h1v13h-1zM1080 598h1v14h-1zM1084 599h1v13h-1zM1088 600h1v12h-1zM1092 597h1v15h-1zM1096 597h1v15h-1zM1100 596h1v16h-1zM1104 594h1v18h-1zM1108 594h1v18h-1zM1112 595h1v17h-1zM1116 596h1v16h-1zM1120 598h1v14h-1zM1124 599h1v13h-1zM1128 600h1v12h-1z" fill="#c0c0c0"/>
<polyline shape-rendering="crispEdges" points="4.5,578.9 8.5,580.0 12.5,581.5 16.5,583.8 20.5,586.7 24.5,590.0 28.5,593.7 32.5,597.5 36.5,601.3 40.5,604.6 44.5,607.3 48.5,609.9 52.5,611.8 56.5,612.9 60.5,613.5 64.5,613.8 68.5,614.0 72.5,614.1 76.5,614.5 80.5,615.4 84.5,616.3 88.5,617.3 92.5,618.5 96.5,619.7 100.5,620.9 104.5,621.6 108.5,622.0 112.5,622.3 116.5,622.1 120.5,621.6 124.5,621.2 128.5,620.7 132.5,620.1 136.5,620.1 140.5,620.7 144.5,621.3 148.5,622.0 152.5,622.9 156.5,624.2 160.5,625.5 164.5,627.1 168.5,628.5 172.5,629.3 176.5,629.8 180.5,630.5 184.5,631.3 188.5,632.0 192.5,633.0 196.5,633.4 200.5,633.2 204.5,633.2 208.5,633.4 212.5,633.2 216.5,632.5 220.5,630.8 224.5,628.3 228.5,624.7 232.5,620.8 236.5,616.9 240.5,613.0 244.5,609.0 248.5,605.6 252.5,602.8 256.5,600.8 260.5,599.4 264.5,598.6 268.5,598.3 272.5,598.3 276.5,598.5 280.5,598.6 284.5,598.4 288.5,597.7 292.5,596.7 296.5,595.7 300.5,594.8 304.5,593.6 308.5,592.1 312.5,590.3 316.5,588.7 320.5,587.4 324.5,586.4 328.5,585.8 332.5,585.6 336.5,585.6 340.5,586.1 344.5,587.2 348.5,589.0 352.5,590.9 356.5,593.0 360.5,595.1 364.5,597.4 368.5,599.5 372.5,601.4 376.5,603.1 380.5,604.2 384.5,604.9 388.5,604.9 392.5,604.4 396.5,603.6 400.5,602.2 404.5,600.7 408.5,599.4 412.5,598.2 416.5,597.5 420.5,597.3 424.5,597.9 428.5,599.1 432.5,601.3 436.5,604.3 440.5,607.6 444.5,610.9 448.5,614.1 452.5,617.2 456.5,620.1 460.5,622.7 464.5,624.7 468.5,625.9 472.5,626.2 476.5,626.0 480.5,625.5 484.5,624.4 488.5,623.0 492.5,621.4 496.5,619.8 500.5,618.2 504.5,616.4 508.5,614.7 512.5,613.0 516.5,611.4 520.5,609.8 524.5,608.1 528.5,606.1 532.5,603.6 536.5,600.7 540.5,597.8 544.5,594.5 548.5,590.9 552.5,587.3 556.5,583.7 560.5,580.4 564.5,577.6 568.5,575.6 572.5,574.2 576.5,573.3 580.5,573.1 584.5,573.7 588.5,574.8 592.5,576.0 596.5,577.3 600.5,579.0 604.5,581.1 608.5,583.5 612.5,586.7 616.5,590.0 620.5,593.4 624.5,596.7 628.5,600.1 632.5,603.5 636.5,606.7 640.5,609.3 644.5,611.5 648.5,613.4 652.5,615.3 656.5,617.2 660.5,619.0 664.5,620.6 668.5,621.9 672.5,622.9 676.5,624.2 680.5,625.8 684.5,627.5 688.5,629.2 692.5,630.9 696.5,632.8 700.5,635.4 704.5,638.4 708.5,641.5 712.5,644.2 716.5,646.2 720.5,647.3 724.5,647.3 728.5,646.6 732.5,645.2 736.5,642.7 740.5,640.3 744.5,638.6 748.5,638.0 752.5,638.5 756.5,640.0 760.5,642.4 764.5,645.3 768.5,648.6 772.5,652.5 776.5,655.9 780.5,657.6 784.5,657.9 788.5,656.9 792.5,654.8 796.5,651.6 800.5,647.7 804.5,643.1 808.5,637.9 812.5,633.0 816.5,628.7 820.5,625.3 824.5,622.5 828.5,620.2 832.5,618.5 836.5,617.4 840.5,617.3 844.5,617.8 848.5,618.5 852.5,619.4 856.5,620.0 860.5,620.4 864.5,620.1 868.5,619.4 872.5,618.4 876.5,616.9 880.5,615.1 884.5,613.0 888.5,610.8 892.5,609.3 896.5,608.3 900.5,608.9 904.5,610.5 908.5,613.1 912.5,616.2 916.5,619.8 920.5,624.0 924.5,628.5 928.5,632.2 932.5,635.5 936.5,637.4 940.5,638.5 944.5,638.7 948.5,638.1 952.5,637.0 956.5,635.1 960.5,632.4 964.5,630.1 968.5,628.2 972.5,626.3 976.5,624.5 980.5,622.7 984.5,620.9 988.5,618.6 992.5,616.2 996.5,613.8 1000.5,611.1 1004.5,608.5 1008.5,606.0 1012.5,603.7 1016.5,601.5 1020.5,599.5 1024.5,598.0 1028.5,596.7 1032.5,595.9 1036.5,595.1 1040.5,594.3 1044.5,593.5 1048.5,592.7 1052.5,591.7 1056.5,591.2 1060.5,590.9 1064.5,591.2 1068.5,591.6 1072.5,592.5 1076.5,593.1 1080.5,593.8 1084.5,594.7 1088.5,596.0 1092.5,596.8 1096.5,597.6 1100.5,598.0 1104.5,598.0 1108.5,597.5 1112.5,597.1 1116.5,596.8 1120.5,596.7 1124.5,596.6 1128.5,596.9" fill="none" stroke="#ff0000" stroke-width="1" stroke-dasharray="3 3"/>
<path d="M5 709.5H1419" stroke="#c0c0c0" stroke-width="1" stroke-dasharray="3 3" fill="none"/>
<path d="M5 760.5H1419" stroke="#c0c0c0" stroke-width="1" stroke-dasharray="3 3" fill="none"/>
<polyline shape-rendering="crispEdges" points="4.5,720.4 8.5,737.0 12.5,737.7 16.5,747.9 20.5,744.4 24.5,745.3 28.5,744.3 32.5,738.0 36.5,738.0 40.5,736.1 44.5,735.5 48.5,746.4 52.5,739.7 56.5,732.0 60.5,734.8 64.5,736.0 68.5,737.0 72.5,737.9 76.5,745.9 80.5,753.2 84.5,751.2 88.5,751.6 92.5,741.5 96.5,742.7 100.5,739.6 104.5,729.4 108.5,730.6 112.5,741.6 116.5,742.3 120.5,736.6 124.5,750.6 128.5,734.7 132.5,736.8 136.5,747.8 140.5,746.9 144.5,733.7 148.5,743.3 152.5,745.1 156.5,747.5 160.5,750.2 164.5,748.3 168.5,736.7 172.5,738.6 176.5,740.8 180.5,741.3 184.5,749.9 188.5,746.9 192.5,754.7 196.5,738.8 200.5,738.3 204.5,738.8 208.5,742.4 212.5,733.7 216.5,729.9 220.5,725.5 224.5,724.1 228.5,723.8 232.5,721.4 236.5,722.3 240.5,726.1 244.5,725.4 248.5,730.7 252.5,731.1 256.5,731.6 260.5,727.3 264.5,728.9 268.5,728.9 272.5,727.2 276.5,725.7 280.5,720.6 284.5,717.4 288.5,713.1 292.5,712.7 296.5,721.4 300.5,723.1 304.5,714.4 308.5,711.0 312.5,707.4 316.5,719.4 320.5,719.4 324.5,719.7 328.5,720.4 332.5,729.7 336.5,732.8 340.5,731.1 344.5,733.4 348.5,734.1 352.5,733.4 356.5,734.9 360.5,731.8 364.5,742.7 368.5,734.6 372.5,737.6 376.5,735.8 380.5,721.9 384.5,723.1 388.5,710.8 392.5,721.4 396.5,720.0 400.5,716.2 404.5,724.3 408.5,734.1 412.5,733.3 416.5,736.2 420.5,735.9 424.5,739.2 428.5,744.4 432.5,757.2 436.5,754.4 440.5,748.0 444.5,748.6 448.5,751.7 452.5,747.8 456.5,745.0 460.5,744.3 464.5,741.0 468.5,742.6 472.5,732.0 476.5,735.3 480.5,737.4 484.5,730.2 488.5,730.2 492.5,729.9 496.5,732.9 500.5,731.5 504.5,724.1 508.5,723.0 512.5,723.0 516.5,723.9 520.5,720.2 524.5,711.2 528.5,705.8 532.5,699.5 536.5,703.7 540.5,702.1 544.5,696.7 548.5,696.5 552.5,698.5 556.5,702.5 560.5,701.8 564.5,701.6 568.5,704.5 572.5,712.2 576.5,708.1 580.5,716.6 584.5,720.3 588.5,718.3 592.5,713.0 596.5,711.6 600.5,730.1 604.5,738.1 608.5,743.1 612.5,753.1 616.5,743.6 620.5,744.9 624.5,739.8 628.5,737.2 632.5,737.8 636.5,743.4 640.5,736.6 644.5,741.4 648.5,752.4 652.5,754.7 656.5,753.0 660.5,747.1 664.5,739.5 668.5,736.5 672.5,739.8 676.5,751.0 680.5,752.8 684.5,761.6 688.5,761.6 692.5,757.1 696.5,760.6 700.5,765.5 704.5,756.6 708.5,757.7 712.5,750.1 716.5,744.2 720.5,746.4 724.5,735.5 728.5,735.9 732.5,736.3 736.5,732.2 740.5,745.9 744.5,759.1 748.5,762.5 752.5,763.5 756.5,766.2 760.5,760.4 764.5,755.1 768.5,756.1 772.5,757.2 776.5,748.8 780.5,735.9 784.5,738.8 788.5,738.1 792.5,739.6 796.5,728.7 800.5,729.7 804.5,725.7 808.5,726.9 812.5,736.1 816.5,732.2 820.5,741.5 824.5,741.5 828.5,741.1 832.5,734.9 836.5,736.8 840.5,743.4 844.5,743.6 848.5,742.6 852.5,743.2 856.5,737.2 860.5,739.0 864.5,726.9 868.5,722.0 872.5,723.7 876.5,727.6 880.5,730.1 884.5,723.9 888.5,732.4 892.5,744.8 896.5,744.3 900.5,758.2 904.5,748.8 908.5,749.7 912.5,750.8 916.5,752.9 920.5,753.7 924.5,756.1 928.5,742.8 932.5,746.5 936.5,741.0 940.5,738.1 944.5,736.4 948.5,733.0 952.5,738.5 956.5,731.7 960.5,729.5 964.5,743.4 968.5,744.9 972.5,735.6 976.5,732.7 980.5,732.2 984.5,726.1 988.5,720.5 992.5,722.7 996.5,721.3 1000.5,728.2 1004.5,737.2 1008.5,729.9 1012.5,727.9 1016.5,727.3 1020.5,722.0 1024.5,723.7 1028.5,720.9 1032.5,727.0 1036.5,726.3 1040.5,733.8 1044.5,725.0 1048.5,725.6 1052.5,719.9 1056.5,727.6 1060.5,729.5 1064.5,730.0 1068.5,733.3 1072.5,739.1 1076.5,730.3 1080.5,727.7 1084.5,732.8 1088.5,731.9 1092.5,722.4 1096.5,731.0 1100.5,725.5 1104.5,723.6 1108.5,728.8 1112.5,731.2 1116.5,729.8 1120.5,734.0 1124.5,732.9 1128.5,730.3" fill="none" stroke="#1e90ff" stroke-width="1"/>
<path d="M1130 24h10l-5 5z" fill="#c0c0c0" shape-rendering="auto"/>
<g fill="#000">
<rect x="3" y="23" width="1417" height="1"/><rect x="3" y="562" width="1417" height="1"/>
<rect x="3" y="564" width="1417" height="1"/><rect x="3" y="667" width="1417" height="1"/>
<rect x="3" y="669" width="1417" height="1"/><rect x="3" y="799" width="1417" height="1"/>
<rect x="3" y="23" width="1" height="540"/><rect x="3" y="564" width="1" height="104"/><rect x="3" y="669" width="1" height="131"/>
<rect x="1419" y="23" width="1" height="777"/>
<rect x="1420" y="31" width="2" height="1"/>
<rect x="1420" y="64" width="2" height="1"/>
<rect x="1420" y="97" width="2" height="1"/>
<rect x="1420" y="130" width="2" height="1"/>
<rect x="1420" y="163" width="2" height="1"/>
<rect x="1420" y="196" width="2" height="1"/>
<rect x="1420" y="229" width="2" height="1"/>
<rect x="1420" y="262" width="2" height="1"/>
<rect x="1420" y="295" width="2" height="1"/>
<rect x="1420" y="328" width="2" height="1"/>
<rect x="1420" y="361" width="2" height="1"/>
<rect x="1420" y="394" width="2" height="1"/>
<rect x="1420" y="427" width="2" height="1"/>
<rect x="1420" y="460" width="2" height="1"/>
<rect x="1420" y="493" width="2" height="1"/>
<rect x="1420" y="526" width="2" height="1"/>
<rect x="1420" y="559" width="2" height="1"/>
<rect x="1420" y="566" width="1" height="1"/>
<rect x="1420" y="611" width="1" height="1"/>
<rect x="1420" y="666" width="1" height="1"/>
<rect x="1420" y="671" width="1" height="1"/>
<rect x="1420" y="709" width="1" height="1"/>
<rect x="1420" y="760" width="1" height="1"/>
<rect x="1420" y="798" width="1" height="1"/>
<rect x="4" y="800" width="1" height="3"/>
<rect x="68" y="800" width="1" height="3"/>
<rect x="132" y="800" width="1" height="3"/>
<rect x="196" y="800" width="1" height="3"/>
<rect x="260" y="800" width="1" height="3"/>
<rect x="324" y="800" width="1" height="3"/>
<rect x="388" y="800" width="1" height="3"/>
<rect x="452" y="800" width="1" height="3"/>
<rect x="516" y="800" width="1" height="3"/>
<rect x="580" y="800" width="1" height="3"/>
<rect x="644" y="800" width="1" height="3"/>
<rect x="708" y="800" width="1" height="3"/>
<rect x="772" y="800" width="1" height="3"/>
<rect x="836" y="800" width="1" height="3"/>
<rect x="900" y="800" width="1" height="3"/>
<rect x="964" y="800" width="1" height="3"/>
<rect x="1028" y="800" width="1" height="3"/>
<rect x="1092" y="800" width="1" height="3"/>
</g>
<rect x="4" y="97" width="1416" height="3" fill="#ff0000"/>
<rect x="1413" y="95" width="7" height="7" fill="#ff0000"/>
<rect x="1416" y="98" width="1" height="1" fill="#fff"/>
<rect x="3" y="95" width="7" height="7" fill="#ff0000"/>
<rect x="6" y="98" width="1" height="1" fill="#fff"/>
<rect x="4" y="201" width="1416" height="3" fill="#ff0000"/>
<rect x="1413" y="199" width="7" height="7" fill="#ff0000"/>
<rect x="1416" y="202" width="1" height="1" fill="#fff"/>
<rect x="3" y="199" width="7" height="7" fill="#ff0000"/>
<rect x="6" y="202" width="1" height="1" fill="#fff"/>
<rect x="4" y="296" width="1416" height="3" fill="#00ff00"/>
<rect x="1413" y="294" width="7" height="7" fill="#00ff00"/>
<rect x="1416" y="297" width="1" height="1" fill="#fff"/>
<rect x="3" y="294" width="7" height="7" fill="#00ff00"/>
<rect x="6" y="297" width="1" height="1" fill="#fff"/>
<rect x="4" y="426" width="1416" height="3" fill="#0000ff"/>
<rect x="1413" y="424" width="7" height="7" fill="#0000ff"/>
<rect x="1416" y="427" width="1" height="1" fill="#fff"/>
<rect x="3" y="424" width="7" height="7" fill="#0000ff"/>
<rect x="6" y="427" width="1" height="1" fill="#fff"/>
<rect x="4" y="512" width="1416" height="3" fill="#0000ff"/>
<rect x="1419" y="512" width="1" height="3" fill="#0000ff"/>
</svg>
<div class="s" style="left:1425px;top:28px">1.02580</div>
<div class="s" style="left:1425px;top:61px">1.02200</div>
<div class="s" style="left:1425px;top:94px">1.01820</div>
<div class="s" style="left:1425px;top:127px">1.01440</div>
<div class="s" style="left:1425px;top:160px">1.01050</div>
<div class="s" style="left:1425px;top:193px">1.00670</div>
<div class="s" style="left:1425px;top:226px">1.00290</div>
<div class="s" style="left:1425px;top:259px">0.99910</div>
<div class="s" style="left:1425px;top:292px">0.99530</div>
<div class="s" style="left:1425px;top:325px">0.99140</div>
<div class="s" style="left:1425px;top:358px">0.98760</div>
<div class="s" style="left:1425px;top:391px">0.98380</div>
<div class="s" style="left:1425px;top:424px">0.98000</div>
<div class="s" style="left:1425px;top:457px">0.97610</div>
<div class="s" style="left:1425px;top:490px">0.97230</div>
<div class="s" style="left:1425px;top:523px">0.96850</div>
<div class="s" style="left:1425px;top:556px">0.96470</div>
<div class="tag" style="top:297px;background:#000;color:#fff"><span>0.99444</span></div>
<div class="tag" style="top:92px;background:#ff0000;color:#fff"><span>1.01804</span></div>
<div class="tag" style="top:196px;background:#ff0000;color:#fff"><span>1.00602</span></div>
<div class="tag" style="top:291px;background:#00ff00;color:#fff"><span>0.99504</span></div>
<div class="tag" style="top:421px;background:#0000ff;color:#fff"><span>0.98001</span></div>
<div class="tag" style="top:507px;background:#0000ff;color:#fff"><span>0.97007</span></div>
<div class="s" style="left:1423px;top:568px">0.00613</div>
<div class="s" style="left:1423px;top:608px">0.00</div>
<div class="s" style="left:1423px;top:657px">-0.007612</div>
<div class="s" style="left:1423px;top:673px">100</div>
<div class="s" style="left:1422px;top:706px">70</div>
<div class="s" style="left:1422px;top:757px">30</div>
<div class="s" style="left:1423px;top:789px">0</div>
<div class="s" style="left:4px;top:805px">15 Nov 2018</div>
<div class="s" style="left:68px;top:805px">4 Dec 2018</div>
<div class="s" style="left:132px;top:805px">23 Dec 2018</div>
<div class="s" style="left:196px;top:805px">10 Jan 2019</div>
<div class="s" style="left:260px;top:805px">29 Jan 2019</div>
<div class="s" style="left:324px;top:805px">17 Feb 2019</div>
<div class="s" style="left:388px;top:805px">7 Mar 2019</div>
<div class="s" style="left:452px;top:805px">26 Mar 2019</div>
<div class="s" style="left:516px;top:805px">14 Apr 2019</div>
<div class="s" style="left:580px;top:805px">3 May 2019</div>
<div class="s" style="left:644px;top:805px">22 May 2019</div>
<div class="s" style="left:708px;top:805px">10 Jun 2019</div>
<div class="s" style="left:772px;top:805px">28 Jun 2019</div>
<div class="s" style="left:836px;top:805px">17 Jul 2019</div>
<div class="s" style="left:900px;top:805px">5 Aug 2019</div>
<div class="s" style="left:964px;top:805px">23 Aug 2019</div>
<div class="s" style="left:1028px;top:805px">11 Sep 2019</div>
<div class="s" style="left:1092px;top:805px">30 Sep 2019</div>
<div class="s" style="left:19px;top:28px;letter-spacing:-0.05px">USDCHF-,Daily</div>
<div class="s" style="left:93.3px;top:28px;letter-spacing:-0.36px">0.99305 0.99521 0.99291 0.99444</div>
<div class="s" style="left:8.5px;top:570px;letter-spacing:-0.15px">MACD(12,26,9)</div>
<div class="s" style="left:77.8px;top:570px;letter-spacing:-0.36px">0.001564 0.001981</div>
<div class="s" style="left:8.5px;top:675px;letter-spacing:-0.15px">RSI(14)</div>
<div class="s" style="left:43.2px;top:675px;letter-spacing:-0.36px">53.7458</div>
<div class="panelbg"></div>
<svg width="230" height="70" viewBox="0 40 230 70" style="position:absolute;left:0;top:40px">
<defs><linearGradient id="rg" gradientUnits="userSpaceOnUse" x1="0" y1="43" x2="0" y2="107">
<stop offset="0" stop-color="#ff4f57"/><stop offset="0.12" stop-color="#f2444b"/><stop offset="0.36" stop-color="#e03034"/><stop offset="0.55" stop-color="#d42225"/><stop offset="0.78" stop-color="#c21014"/><stop offset="1" stop-color="#ae0000"/></linearGradient>
<linearGradient id="bg" x1="0" y1="0" x2="0" y2="1"><stop offset="0" stop-color="#f2f2f2"/><stop offset="0.25" stop-color="#eeeeee"/><stop offset="0.3" stop-color="#dadada"/><stop offset="1" stop-color="#d4d4d4"/></linearGradient></defs>
<g shape-rendering="crispEdges">
<path d="M7 43H59V67H116V107H7Z" fill="url(#rg)"/><path d="M174 43H226V107H118V67H174Z" fill="url(#rg)"/>
<path d="M7.5 43.5H58.5V67.5H115.5V106.5H7.5Z" fill="none" stroke="#b80008" stroke-width="1"/>
<path d="M174.5 43.5H225.5V106.5H118.5V67.5H174.5Z" fill="none" stroke="#b80008" stroke-width="1"/>
<rect x="11" y="66" width="44" height="1" fill="#a80810"/><rect x="11" y="67" width="44" height="1" fill="#ff7c88"/>
<rect x="178" y="66" width="44" height="1" fill="#a80810"/><rect x="178" y="67" width="44" height="1" fill="#ff7c88"/>
<rect x="61.5" y="43.5" width="110" height="21" fill="#fff" stroke="#a9afbb"/>
<rect x="82" y="44" width="1" height="20" fill="#a9afbb"/><rect x="150" y="44" width="1" height="20" fill="#a9afbb"/>
<rect x="63" y="45" width="18" height="18" fill="url(#bg)"/><rect x="152" y="45" width="18" height="18" fill="url(#bg)"/>
</g>
<path d="M69 52h5.6l-2.8 3.2z" fill="#5560b8"/><path d="M158 55h5.6l-2.8-3.2z" fill="#5560b8"/>
</svg>
<div class="btn" style="left:19px;top:49px">SELL</div>
<div class="btn" style="left:187.5px;top:49px;letter-spacing:0.4px">BUY</div>
<div style="position:absolute;left:123px;top:47px;font-size:12px;line-height:14px;color:#000">1.00</div>
<div class="sm" style="left:27px;top:88px">0.99</div>
<div class="big" style="left:54px;top:70.5px">44</div>
<div class="sm" style="left:94px;top:72.5px">4</div>
<div class="sm" style="left:137px;top:88px">0.99</div>
<div class="big" style="left:165px;top:70.5px">46</div>
<div class="sm" style="left:205px;top:72.5px">9</div>
<svg width="10" height="6" style="position:absolute;left:6px;top:29px"><path d="M0.5 5L4 1L7.5 5z" fill="#000"/></svg>
<div class="botline1"></div><div class="botline"></div>
<div class="tabbar"></div>
<div class="acttab"></div>
<div class="tb" style="left:16px">EURUSD-,Daily</div>
<div class="tb" style="left:123px">AUDUSD-,Daily</div>
<div class="tb act" style="left:233px">USDCHF-,Daily</div>
<div class="tb" style="left:340px">USDCAD-,Daily</div>
<div class="tb" style="left:449px">USDCNH-,Daily</div>
<div class="tb" style="left:560px">EURCHF-,Weekly</div>
<div class="tb" style="left:680px">XAUUSD-,Weekly</div>
<div class="tb" style="left:804px">GBPUSD-,H1</div>
<div class="tb" style="left:900px">UKOil-,H1</div>
<div class="tb" style="left:979px">USDX-,Weekly</div>
<div class="tb" style="left:1083px">EURCHF-,H1</div>
<div class="tb" style="left:1177px">USOil-,H1</div>
<div class="sep" style="left:113px"></div>
<div class="sep" style="left:437px"></div>
<div class="sep" style="left:549px"></div>
<div class="sep" style="left:669px"></div>
<div class="sep" style="left:793px"></div>
<div class="sep" style="left:889px"></div>
<div class="sep" style="left:969px"></div>
<div class="sep" style="left:1073px"></div>
<div class="sep" style="left:1165px"></div>
<div class="sep" style="left:1245px"></div>
<svg width="30" height="10" style="position:absolute;left:1432px;top:827px"><path d="M3 4.5L7 1V8z" fill="#a0a0a0"/><path d="M26 4.5L22 1V8z" fill="#a0a0a0"/></svg>
<div style="position:absolute;left:0;top:823px;width:1px;height:18px;background:#696969"></div>
</body></html>
